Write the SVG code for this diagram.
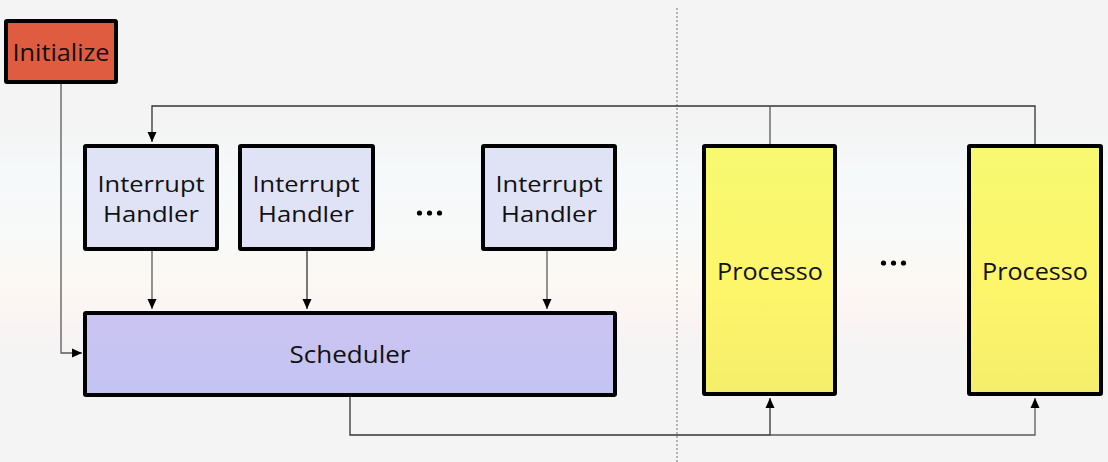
<svg xmlns="http://www.w3.org/2000/svg" width="1108" height="462" viewBox="0 0 1108 462">
<style>
.box{stroke:#000;stroke-width:4}
.t{font-family:"Open Sans","Noto Sans",sans-serif;fill:#111;text-anchor:middle}
.c{fill:none;stroke:#333;stroke-width:1.3}
.g{fill:none;stroke:#5a5a5a;stroke-width:1.3}
.d{fill:#000}
</style>
<defs>
<linearGradient id="bg" x1="0" y1="0" x2="0" y2="1">
<stop offset="0" stop-color="#f4f4f4"/>
<stop offset="0.28" stop-color="#f4f4f4"/>
<stop offset="0.38" stop-color="#f6f9fa"/>
<stop offset="0.52" stop-color="#f8f9f9"/>
<stop offset="0.6" stop-color="#fcf9f3"/>
<stop offset="0.68" stop-color="#fbf4f3"/>
<stop offset="0.76" stop-color="#f4f4f4"/>
<stop offset="1" stop-color="#f4f4f4"/>
</linearGradient>
<linearGradient id="sch" x1="0" y1="0" x2="0" y2="1">
<stop offset="0" stop-color="#ccc4f2"/>
<stop offset="1" stop-color="#c3c4f2"/>
</linearGradient>
<linearGradient id="pro" x1="0" y1="0" x2="0" y2="1">
<stop offset="0" stop-color="#f7f970"/>
<stop offset="0.6" stop-color="#fdf56a"/>
<stop offset="1" stop-color="#f5ee6a"/>
</linearGradient>
<marker id="ah" viewBox="0 0 10 12" refX="10" refY="6" markerWidth="10" markerHeight="12" markerUnits="userSpaceOnUse" orient="auto">
<path d="M0,1.5 L10,6 L0,10.5 Z" fill="#000"/>
</marker>
</defs>
<rect width="1108" height="462" fill="url(#bg)"/>
<line x1="677" y1="8" x2="677" y2="462" stroke="#888" stroke-width="1.2" stroke-dasharray="2,2"/>

<g id="connectors">
<path class="g" d="M61,84 V353 H82" marker-end="url(#ah)"/>
<path class="c" d="M1035,144 V106 H152 V142" marker-end="url(#ah)"/>
<path class="g" d="M770,144 V106"/>
<path class="g" d="M152,251 V309" marker-end="url(#ah)"/>
<path class="c" d="M307,251 V309" marker-end="url(#ah)"/>
<path class="g" d="M547,251 V309" marker-end="url(#ah)"/>
<path class="c" d="M350,396 V435 H770 V398" marker-end="url(#ah)"/>
<path class="g" d="M770,435 H1035 V398" marker-end="url(#ah)"/>
</g>

<g id="initialize">
<rect class="box" x="6" y="21" width="110" height="61" rx="1" fill="#e05c40"/>
<text class="t" x="61" y="61" font-size="23" textLength="97" lengthAdjust="spacingAndGlyphs">Initialize</text>
</g>
<g id="ih1">
<rect class="box" x="85" y="146" width="132" height="103" rx="1" fill="#e0e2f6"/>
<text class="t" x="151" y="192" font-size="22" textLength="107" lengthAdjust="spacingAndGlyphs">Interrupt</text>
<text class="t" x="151" y="222" font-size="22" textLength="96" lengthAdjust="spacingAndGlyphs">Handler</text>
</g>
<g id="ih2">
<rect class="box" x="240" y="146" width="133" height="103" rx="1" fill="#e0e2f6"/>
<text class="t" x="306" y="192" font-size="22" textLength="107" lengthAdjust="spacingAndGlyphs">Interrupt</text>
<text class="t" x="306" y="222" font-size="22" textLength="96" lengthAdjust="spacingAndGlyphs">Handler</text>
</g>
<g id="dots1">
<circle class="d" cx="419.5" cy="213" r="2.6"/><circle class="d" cx="429.5" cy="213" r="2.6"/><circle class="d" cx="439.5" cy="213" r="2.6"/>
</g>
<g id="ih3">
<rect class="box" x="483" y="146" width="132" height="103" rx="1" fill="#e0e2f6"/>
<text class="t" x="549" y="192" font-size="22" textLength="107" lengthAdjust="spacingAndGlyphs">Interrupt</text>
<text class="t" x="549" y="222" font-size="22" textLength="96" lengthAdjust="spacingAndGlyphs">Handler</text>
</g>
<g id="scheduler">
<rect class="box" x="85" y="313" width="530" height="82" rx="1" fill="url(#sch)"/>
<text class="t" x="350" y="363" font-size="23" textLength="121" lengthAdjust="spacingAndGlyphs">Scheduler</text>
</g>
<g id="processo1">
<rect class="box" x="704" y="146" width="131" height="248" rx="1" fill="url(#pro)"/>
<text class="t" x="770" y="280" font-size="23" textLength="106" lengthAdjust="spacingAndGlyphs">Processo</text>
</g>
<g id="dots2">
<circle class="d" cx="883.5" cy="263" r="2.6"/><circle class="d" cx="893.5" cy="263" r="2.6"/><circle class="d" cx="903.5" cy="263" r="2.6"/>
</g>
<g id="processo2">
<rect class="box" x="969" y="146" width="132" height="248" rx="1" fill="url(#pro)"/>
<text class="t" x="1035" y="280" font-size="23" textLength="106" lengthAdjust="spacingAndGlyphs">Processo</text>
</g>
</svg>
